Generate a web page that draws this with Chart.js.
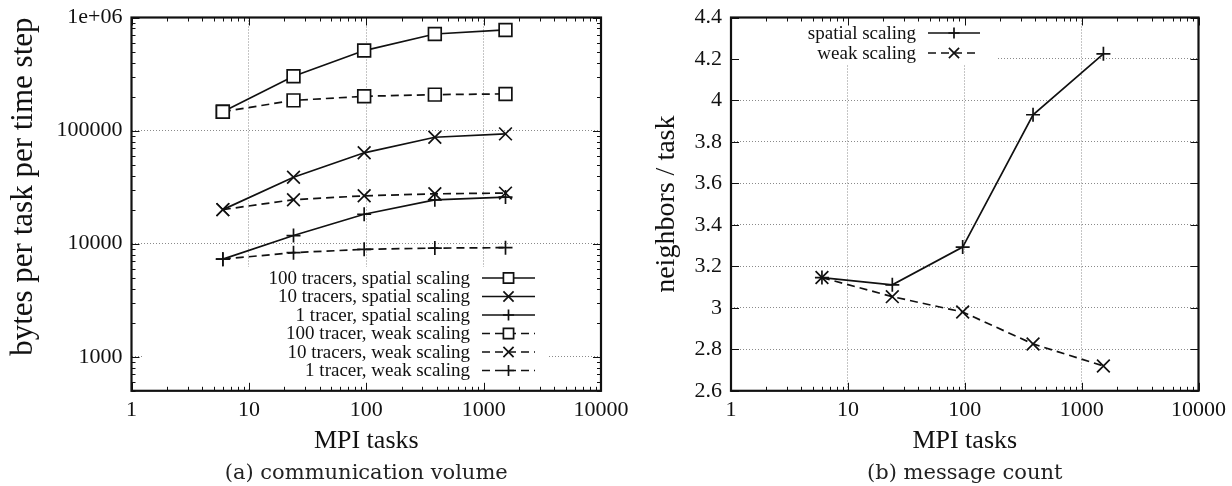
<!DOCTYPE html>
<html>
<head>
<meta charset="utf-8">
<script src="https://cdn.jsdelivr.net/npm/chart.js@4.4.1/dist/chart.umd.min.js"></script>
<style>
  html, body { margin: 0; padding: 0; background: #fff; }
  body { width: 1232px; height: 486px; position: relative; overflow: hidden; }
  canvas { position: absolute; top: 0; }
  #volume { left: 0; }
  #count { left: 616px; }
</style>
</head>
<body>
<canvas id="volume" width="640" height="486"></canvas>
<canvas id="count" width="616" height="486"></canvas>
<script>
// MPI task counts, shared by both panels
const tasks = [6, 24, 96, 384, 1536];

// (a) bytes per task per time step
const tracers100Spatial = [147000, 302000, 510000, 715000, 776000];
const tracers10Spatial = [20000, 38700, 63600, 87300, 93500];
const tracers1Spatial = [7300, 11800, 18200, 24400, 25800];
const tracers100Weak = [147000, 185000, 201000, 208000, 211000];
const tracers10Weak = [20000, 24500, 26500, 27600, 28000];
const tracers1Weak = [7300, 8330, 8910, 9140, 9220];

// (b) neighbors / task
const neighborsSpatial = [3.146, 3.111, 3.293, 3.931, 4.225];
const neighborsWeak = [3.146, 3.054, 2.98, 2.826, 2.72];

// tick labels
const xTickValues = [1, 10, 100, 1000, 10000];
const xTickLabels = ['1', '10', '100', '1000', '10000'];
const volumeTickValues = [1000, 10000, 100000, 1000000];
const volumeTickLabels = ['1000', '10000', '100000', '1e+06'];
const countTickLabels = ['2.6', '2.8', '3', '3.2', '3.4', '3.6', '3.8', '4', '4.2', '4.4'];

const INK = '#111';
const SERIF = 'Liberation Serif';
const markerSize = { rect: 9, crossRot: 9, cross: 7 };

function labelFor(values, labels, v) {
  const i = values.findIndex(t => Math.abs(t - v) / t < 1e-6);
  return i >= 0 ? labels[i] : '';
}

// 1..9 x 10^k between min and max, for gnuplot style minor ticks
function logTicks(scale) {
  const out = [];
  for (let e = -1; e <= 7; e++) {
    for (let m = 1; m < 10; m++) {
      const v = m * Math.pow(10, e);
      if (v >= scale.min * 0.9999 && v <= scale.max * 1.0001) out.push({ value: v, major: m === 1 });
    }
  }
  scale.ticks = out;
}

function series(label, values, style, dashed) {
  return {
    label,
    data: tasks.map((x, i) => ({ x, y: values[i] })),
    showLine: true,
    borderColor: INK,
    borderWidth: 1.7,
    borderDash: dashed ? [8, 5] : [],
    pointStyle: style,
    pointRadius: markerSize[style],
    pointBorderColor: INK,
    pointBorderWidth: 1.7,
    pointBackgroundColor: style === 'rect' ? '#fff' : 'rgba(0,0,0,0)'
  };
}

function drawMarker(ctx, style, x, y, r) {
  ctx.beginPath();
  if (style === 'rect') {
    const s = r * Math.SQRT1_2;
    ctx.rect(x - s, y - s, 2 * s, 2 * s);
    ctx.fillStyle = '#fff';
    ctx.fill();
  } else if (style === 'cross') {
    ctx.moveTo(x - r, y); ctx.lineTo(x + r, y);
    ctx.moveTo(x, y - r); ctx.lineTo(x, y + r);
  } else {
    const d = r * Math.SQRT1_2;
    ctx.moveTo(x - d, y - d); ctx.lineTo(x + d, y + d);
    ctx.moveTo(x - d, y + d); ctx.lineTo(x + d, y - d);
  }
  ctx.stroke();
}

// gnuplot look: opaque key box, key on the right of text, inward ticks, solid frame
const gnuFrame = {
  id: 'gnuFrame',
  beforeDatasetsDraw(chart, args, opts) {
    const b = opts.box;
    chart.ctx.save();
    chart.ctx.fillStyle = '#fff';
    chart.ctx.fillRect(b.x, b.y, b.w, b.h);
    chart.ctx.restore();
  },
  afterDatasetsDraw(chart, args, opts) {
    const ctx = chart.ctx;
    ctx.save();
    ctx.font = '19px ' + SERIF;
    ctx.textAlign = 'right';
    ctx.textBaseline = 'middle';
    chart.data.datasets.forEach((ds, i) => {
      const y = opts.rows[i];
      ctx.fillStyle = INK;
      ctx.fillText(ds.label, opts.textRight, y + 1);
      ctx.strokeStyle = INK;
      ctx.lineWidth = ds.borderWidth;
      ctx.setLineDash(ds.borderDash);
      ctx.beginPath();
      ctx.moveTo(opts.x1, y);
      ctx.lineTo(opts.x2, y);
      ctx.stroke();
      ctx.setLineDash([]);
      drawMarker(ctx, ds.pointStyle, (opts.x1 + opts.x2) / 2, y, ds.pointRadius * 0.8);
    });
    ctx.restore();
  },
  afterDraw(chart) {
    const ctx = chart.ctx;
    const { left, right, top, bottom } = chart.chartArea;
    ctx.save();
    ctx.strokeStyle = INK;
    ctx.lineWidth = 1;
    const xs = chart.scales.x;
    xs.ticks.forEach(t => {
      const px = Math.round(xs.getPixelForValue(t.value)) + 0.5;
      const len = t.major ? 8 : 4;
      ctx.beginPath();
      ctx.moveTo(px, bottom); ctx.lineTo(px, bottom - len);
      ctx.moveTo(px, top); ctx.lineTo(px, top + len);
      ctx.stroke();
    });
    const ys = chart.scales.y;
    ys.ticks.forEach(t => {
      const py = Math.round(ys.getPixelForValue(t.value)) + 0.5;
      const len = (ys.type === 'linear' || t.major) ? 8 : 4;
      ctx.beginPath();
      ctx.moveTo(left, py); ctx.lineTo(left + len, py);
      ctx.moveTo(right, py); ctx.lineTo(right - len, py);
      ctx.stroke();
    });
    ctx.lineWidth = 2.2;
    ctx.strokeRect(left, top, right - left, bottom - top);
    ctx.restore();
  }
};

// y axis: fixed width, no extra room for the end labels so the frame top is set by layout padding
function fixY(width) {
  return s => {
    s.width = width;
    s.paddingTop = 0;
    s.paddingBottom = 0;
  };
}

function xAxis() {
  return {
    type: 'logarithmic',
    min: 1,
    max: 10000,
    afterBuildTicks: logTicks,
    afterFit: s => { s.height = 66; },
    grid: { drawTicks: false, color: c => (c.tick && c.tick.major ? '#8a8a8a' : 'rgba(0,0,0,0)'), lineWidth: 1 },
    border: { display: false, dash: [1, 2] },
    ticks: {
      autoSkip: false, maxRotation: 0, minRotation: 0, padding: 6,
      color: INK, font: { family: SERIF, size: 22 },
      callback: v => labelFor(xTickValues, xTickLabels, v)
    },
    title: { display: true, text: 'MPI tasks', color: INK, font: { family: SERIF, size: 26 }, padding: { top: 0, bottom: 0 } }
  };
}

function caption(text) {
  return {
    display: true, position: 'bottom', fullSize: false, text, color: '#222',
    font: { family: 'DejaVu Serif', size: 21, weight: 'normal', lineHeight: 1.2 },
    padding: { top: 4, bottom: 0 }
  };
}

new Chart(document.getElementById('volume'), {
  type: 'scatter',
  data: {
    datasets: [
      series('100 tracers, spatial scaling', tracers100Spatial, 'rect', false),
      series('10 tracers, spatial scaling', tracers10Spatial, 'crossRot', false),
      series('1 tracer, spatial scaling', tracers1Spatial, 'cross', false),
      series('100 tracer, weak scaling', tracers100Weak, 'rect', true),
      series('10 tracers, weak scaling', tracers10Weak, 'crossRot', true),
      series('1 tracer, weak scaling', tracers1Weak, 'cross', true)
    ]
  },
  options: {
    responsive: false,
    animation: false,
    layout: { padding: { top: 17.5, right: 39, bottom: 0, left: 0 } },
    scales: {
      x: xAxis(),
      y: {
        type: 'logarithmic',
        min: 500,
        max: 1000000,
        afterBuildTicks: logTicks,
        afterFit: fixY(131.5),
        grid: { drawTicks: false, color: c => (c.tick && c.tick.major ? '#8a8a8a' : 'rgba(0,0,0,0)'), lineWidth: 1 },
        border: { display: false, dash: [1, 2] },
        ticks: {
          autoSkip: false, padding: 9, color: INK, font: { family: SERIF, size: 22 },
          callback: v => labelFor(volumeTickValues, volumeTickLabels, v)
        },
        title: {
          display: true, align: 'end', text: 'bytes per task per time step', color: INK,
          font: { family: SERIF, size: 31 }, padding: { top: 5, bottom: 0 }
        }
      }
    },
    plugins: {
      legend: { display: false },
      tooltip: { enabled: false },
      title: caption('(a) communication volume'),
      gnuFrame: {
        box: { x: 142, y: 267, w: 405, h: 122 },
        rows: [278, 296.5, 315, 333.5, 352, 370.5],
        textRight: 470, x1: 482, x2: 535
      }
    }
  },
  plugins: [gnuFrame]
});

new Chart(document.getElementById('count'), {
  type: 'scatter',
  data: {
    datasets: [
      series('spatial scaling', neighborsSpatial, 'cross', false),
      series('weak scaling', neighborsWeak, 'crossRot', true)
    ]
  },
  options: {
    responsive: false,
    animation: false,
    layout: { padding: { top: 17.5, right: 27, bottom: 0, left: 0 } },
    scales: {
      x: xAxis(),
      y: {
        type: 'linear',
        min: 2.6,
        max: 4.4,
        afterFit: fixY(115),
        grid: { drawTicks: false, color: '#8a8a8a', lineWidth: 1 },
        border: { display: false, dash: [1, 2] },
        ticks: {
          stepSize: 0.2, padding: 9, color: INK, font: { family: SERIF, size: 22 },
          callback: v => labelFor(countTickLabels.map(Number), countTickLabels, v)
        },
        title: { display: true, text: 'neighbors / task', color: INK, font: { family: SERIF, size: 28 }, padding: { top: 34, bottom: 0 } }
      }
    },
    plugins: {
      legend: { display: false },
      tooltip: { enabled: false },
      title: caption('(b) message count'),
      gnuFrame: {
        box: { x: 117, y: 16, w: 264, h: 49 },
        rows: [33, 53],
        textRight: 300, x1: 312, x2: 364
      }
    }
  },
  plugins: [gnuFrame]
});
</script>
</body>
</html>
